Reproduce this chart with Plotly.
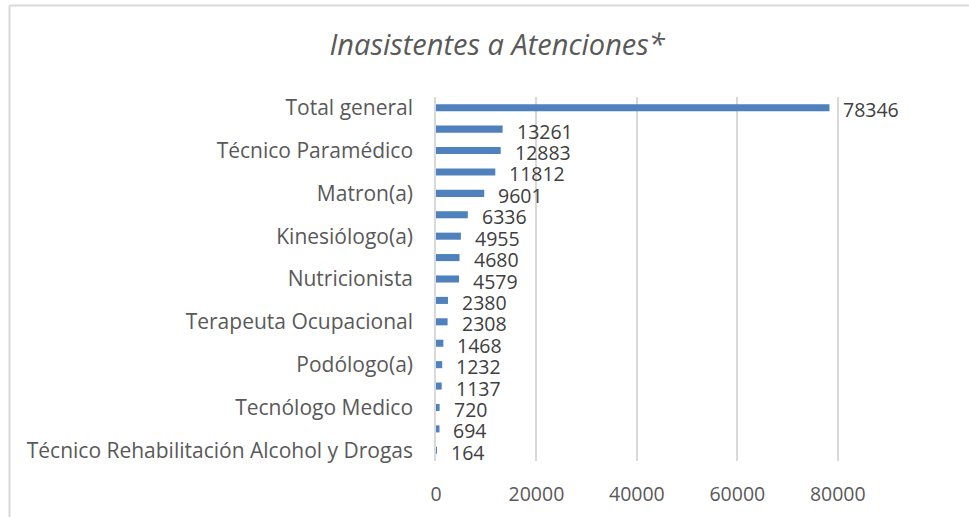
import plotly.graph_objects as go

categories = [
    "Total general", "Médico(a)", "Técnico Paramédico", "Enfermero(a)",
    "Matron(a)", "Odontólogo(a)", "Kinesiólogo(a)", "Psicólogo(a)",
    "Nutricionista", "Asistente Social", "Terapeuta Ocupacional",
    "Fonoaudiólogo(a)", "Podólogo(a)", "Educador(a)", "Tecnólogo Medico",
    "Químico Farmacéutico", "Técnico Rehabilitación Alcohol y Drogas",
]
values = [78346, 13261, 12883, 11812, 9601, 6336, 4955, 4680, 4579,
          2380, 2308, 1468, 1232, 1137, 720, 694, 164]
shown_labels = categories[::2]
x_ticks = [0, 20000, 40000, 60000, 80000]

FONT = "Open Sans"
FS = 21
FS_NUM = 19.5

fig = go.Figure(go.Bar(
    y=categories, x=values, orientation="h",
    marker=dict(color="#4F81BD", line=dict(width=0)),
    width=0.33, hoverinfo="x+y",
))

annotations = [
    dict(x=v, y=c, xref="x", yref="y", text=str(v), showarrow=False,
         xanchor="left", yanchor="middle", xshift=12, yshift=-2,
         font=dict(family=FONT, size=FS_NUM, color="#404040"))
    for c, v in zip(categories, values)
]

fig.update_layout(
    width=969, height=517,
    margin=dict(l=436, r=81, t=97, b=56, autoexpand=False),
    paper_bgcolor="white", plot_bgcolor="white",
    title=dict(text="<i>Inasistentes a Atenciones*</i>", x=0.513, xanchor="center",
               y=0.913, yanchor="middle",
               font=dict(family=FONT, size=29, color="#595959")),
    showlegend=False,
    annotations=annotations,
    xaxis=dict(range=[0, 90000], tickvals=x_ticks, ticktext=[str(t) for t in x_ticks],
               showgrid=True, gridcolor="#D9D9D9", gridwidth=1.5, zeroline=False,
               showline=False, ticks="", ticklabelstandoff=19, automargin=False,
               tickfont=dict(family=FONT, size=FS_NUM, color="#595959")),
    yaxis=dict(range=[len(categories) - 0.5, -0.5], autorange=False,
               categoryorder="array", categoryarray=categories,
               tickvals=shown_labels, ticktext=shown_labels,
               showgrid=False, showline=True, linecolor="#D9D9D9", linewidth=1.5,
               ticks="", ticklabelstandoff=17, automargin=False,
               tickfont=dict(family=FONT, size=FS, color="#595959")),
    shapes=[
        dict(type="line", xref="paper", yref="paper", x0=-0.9436, x1=1.18,
             y0=1.2514, y1=1.2514, line=dict(color="#D9D9D9", width=2)),
        dict(type="line", xref="paper", yref="paper", x0=-0.9436, x1=-0.9436,
             y0=-0.16, y1=1.2514, line=dict(color="#D9D9D9", width=2)),
    ],
)

fig.write_html("out.html", config={"displayModeBar": False},
               post_script="document.body.style.margin='0';")
